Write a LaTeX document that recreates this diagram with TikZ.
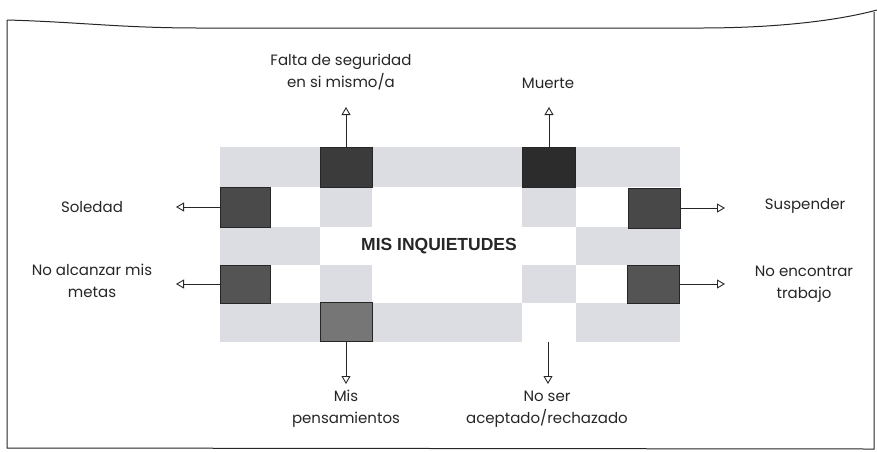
\documentclass[tikz,border=0pt]{standalone}
\usepackage{fontspec}
\setmainfont{Poppins}
\newfontfamily\titlefont{Liberation Sans}
\usetikzlibrary{arrows.meta}
\definecolor{fondo}{HTML}{DCDDE2}
\definecolor{tinta}{HTML}{262626}

\begin{document}
\begin{tikzpicture}[x=1pt,y=-1pt,
  cuadro/.style={draw=tinta,line width=0.8pt,minimum width=52pt,minimum height=40pt,inner sep=0pt},
  etiqueta/.style={align=center,font=\fontsize{15}{22}\selectfont,text=tinta,inner sep=0pt},
  flecha/.style={draw=tinta,line width=0.7pt,-{Triangle[open,length=8pt,width=9pt,line width=0.9pt]}}]
\useasboundingbox (0,0) rectangle (877,451);
\draw[line width=1pt,tinta] (7,20) .. controls (80,22) and (120,28) .. (200,28) -- (700,28) .. controls (780,28) and (840,20) .. (877,10);
\draw[line width=1pt,tinta] (7,20) -- (7,448) -- (874,449) -- (874,12);

\fill[fondo] (220,147) rectangle (680,187);
\fill[fondo] (320,187) rectangle (372,227);
\fill[fondo] (522,187) rectangle (576,227);
\fill[fondo] (220,227) rectangle (320,265);
\fill[fondo] (576,227) rectangle (680,265);
\fill[fondo] (320,265) rectangle (372,303);
\fill[fondo] (522,265) rectangle (576,303);
\fill[fondo] (220,303) rectangle (320,342);
\fill[fondo] (372,303) rectangle (522,342);
\fill[fondo] (576,303) rectangle (680,342);

\node[cuadro,fill={rgb,255:red,59;green,59;blue,59}] (falta) at (346,167) {};
\node[cuadro,fill={rgb,255:red,44;green,44;blue,44},minimum width=53pt] (muerte) at (549,167) {};
\node[cuadro,fill={rgb,255:red,74;green,74;blue,74},minimum width=50pt] (soledad) at (245,207) {};
\node[cuadro,fill={rgb,255:red,72;green,72;blue,72}] (suspender) at (654,208) {};
\node[cuadro,fill={rgb,255:red,84;green,84;blue,84},minimum width=50pt,minimum height=38pt] (alcanzar) at (245,284) {};
\node[cuadro,fill={rgb,255:red,84;green,84;blue,84},minimum height=38pt] (encontrar) at (653,284) {};
\node[cuadro,fill={rgb,255:red,118;green,118;blue,118},minimum height=39pt] (pensamientos) at (346,322) {};

\node[font=\titlefont\bfseries\fontsize{17.5}{20}\selectfont,text=tinta] (titulo) at (439,246) {MIS INQUIETUDES};

\node[etiqueta] (tFalta) at (341,72) {Falta de seguridad\\en si mismo/a};
\node[etiqueta] (tMuerte) at (548,83) {Muerte};
\node[etiqueta] (tSoledad) at (92,207) {Soledad};
\node[etiqueta] (tAlcanzar) at (92,281) {No alcanzar mis\\metas};
\node[etiqueta] (tSuspender) at (805,206) {Suspender};
\node[etiqueta] (tEncontrar) at (804,284) {No encontrar\\trabajo};
\node[etiqueta] (tPensamientos) at (346,409) {Mis\\pensamientos};
\node[etiqueta] (tNoSer) at (547,409) {No ser\\aceptado/rechazado};

\coordinate (pFalta) at (346,107);
\coordinate (pMuerte) at (549,107);
\coordinate (pSoledad) at (176,207);
\coordinate (pAlcanzar) at (176,284);
\coordinate (pSuspender) at (725,208);
\coordinate (pEncontrar) at (725,284);
\coordinate (pPensamientos) at (346,384);
\coordinate (iNoSer) at (548,342);
\coordinate (pNoSer) at (548,384);

\draw[flecha] (falta.north) -- (pFalta);
\draw[flecha] (muerte.north) -- (pMuerte);
\draw[flecha] (soledad.west) -- (pSoledad);
\draw[flecha] (alcanzar.west) -- (pAlcanzar);
\draw[flecha] (suspender.east) -- (pSuspender);
\draw[flecha] (encontrar.east) -- (pEncontrar);
\draw[flecha] (pensamientos.south) -- (pPensamientos);
\draw[flecha] (iNoSer) -- (pNoSer);
\end{tikzpicture}
\end{document}
